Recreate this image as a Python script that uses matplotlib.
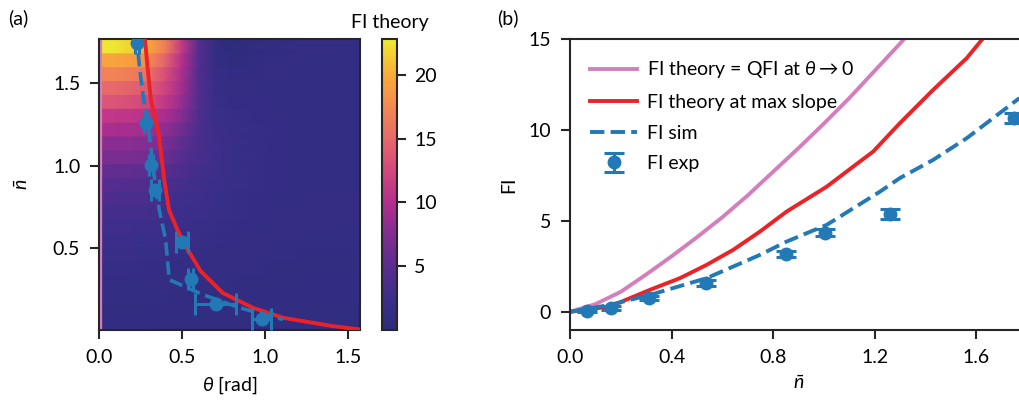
import numpy as np
import matplotlib
matplotlib.use('Agg')
import matplotlib.pyplot as plt
from matplotlib.colors import LinearSegmentedColormap

plt.rcParams['font.family'] = ['Lato', 'DejaVu Sans']
plt.rcParams['font.size'] = 14
plt.rcParams['mathtext.fontset'] = 'custom'
plt.rcParams['mathtext.rm'] = 'Lato'
plt.rcParams['mathtext.it'] = 'Lato:italic'
plt.rcParams['mathtext.bf'] = 'Lato:bold'

# ---------------- data: panel (a) heatmap (FI theory vs theta, nbar) ----------------
theta_nodes = [0.0, 0.1, 0.2, 0.3, 0.4, 0.5, 0.6, 0.7, 0.8, 1.0, 1.2, 1.57]
nbar_edges_max = 1.77
# rows listed from top (largest nbar) to bottom (smallest nbar)
fi_map_rows = [
    [22.5, 22.5, 21.5, 19.5, 16.5, 11.0, 4.5, 1.2, 0.5, 1.2, 1.4, 1.5],
    [19.5, 19.5, 19.0, 17.5, 14.5, 10.0, 4.3, 1.4, 0.8, 1.3, 1.5, 1.5],
    [17.0, 17.0, 16.5, 15.5, 13.0, 9.5, 4.2, 1.7, 1.1, 1.4, 1.5, 1.5],
    [15.0, 15.0, 14.5, 14.0, 12.0, 9.0, 4.2, 2.0, 1.4, 1.5, 1.5, 1.5],
    [13.5, 13.5, 13.0, 12.5, 11.0, 8.5, 4.2, 2.2, 1.6, 1.6, 1.5, 1.5],
    [11.0, 11.0, 10.8, 10.5, 9.5, 7.5, 4.0, 2.4, 1.8, 1.6, 1.5, 1.5],
    [9.5, 9.5, 9.3, 9.0, 8.2, 6.3, 3.8, 2.5, 2.0, 1.7, 1.5, 1.5],
    [8.0, 8.0, 7.9, 7.6, 6.8, 5.3, 3.6, 2.6, 2.1, 1.7, 1.5, 1.5],
    [7.0, 7.0, 6.9, 6.5, 5.8, 4.6, 3.4, 2.6, 2.1, 1.7, 1.5, 1.5],
    [5.5, 5.5, 5.4, 5.1, 4.7, 3.9, 3.1, 2.5, 2.1, 1.7, 1.5, 1.5],
    [4.5, 4.5, 4.4, 4.1, 3.7, 3.2, 2.7, 2.3, 2.0, 1.7, 1.5, 1.5],
    [3.8, 3.8, 3.7, 3.5, 3.2, 2.8, 2.5, 2.2, 1.9, 1.6, 1.5, 1.4],
    [3.2, 3.2, 3.1, 3.0, 2.8, 2.5, 2.3, 2.0, 1.8, 1.6, 1.4, 1.4],
    [2.8, 2.8, 2.7, 2.6, 2.4, 2.2, 2.0, 1.8, 1.7, 1.5, 1.4, 1.3],
    [2.4, 2.4, 2.3, 2.2, 2.1, 2.0, 1.8, 1.7, 1.6, 1.4, 1.3, 1.3],
    [2.0, 2.0, 2.0, 1.9, 1.8, 1.7, 1.6, 1.5, 1.5, 1.3, 1.3, 1.2],
    [1.7, 1.7, 1.7, 1.6, 1.6, 1.5, 1.5, 1.4, 1.4, 1.3, 1.2, 1.2],
    [1.5, 1.5, 1.5, 1.4, 1.4, 1.4, 1.3, 1.3, 1.3, 1.2, 1.2, 1.1],
    [1.3, 1.3, 1.3, 1.3, 1.3, 1.2, 1.2, 1.2, 1.2, 1.1, 1.1, 1.1],
    [1.2, 1.2, 1.2, 1.2, 1.1, 1.1, 1.1, 1.1, 1.1, 1.1, 1.0, 1.0],
    [1.1, 1.1, 1.1, 1.1, 1.0, 1.0, 1.0, 1.0, 1.0, 1.0, 1.0, 1.0],
]

# panel (a) lines
theta_maxslope = [0.274, 0.292, 0.313, 0.359, 0.393, 0.421, 0.472, 0.522, 0.613, 0.744, 0.825, 0.927, 1.109, 1.411, 1.571]
nbar_maxslope = [1.80, 1.599, 1.397, 1.195, 0.910, 0.730, 0.609, 0.508, 0.357, 0.226, 0.185, 0.135, 0.074, 0.023, 0.003]
theta_sim = [0.224, 0.246, 0.272, 0.302, 0.325, 0.343, 0.363, 0.401, 0.423, 0.625, 0.847, 1.107]
nbar_sim_a = [1.80, 1.579, 1.377, 1.195, 1.00, 0.852, 0.730, 0.548, 0.306, 0.215, 0.135, 0.064]

# experiment
n_exp = [0.068, 0.16, 0.312, 0.536, 0.852, 1.003, 1.26, 1.748]
theta_exp = [0.978, 0.702, 0.551, 0.500, 0.337, 0.313, 0.282, 0.228]
theta_err = [0.06, 0.124, 0.016, 0.037, 0.023, 0.015, 0.012, 0.010]
fi_exp = [0.07, 0.2, 0.75, 1.58, 3.17, 4.36, 5.38, 10.64]
fi_exp_err = [0.08, 0.10, 0.12, 0.15, 0.15, 0.18, 0.28, 0.28]

# ---------------- data: panel (b) ----------------
n_qfi = [0.0, 0.1, 0.2, 0.3, 0.4, 0.5, 0.6, 0.7, 0.8, 0.9, 1.0, 1.1, 1.2, 1.3, 1.4]
fi_qfi = [0.0, 0.42, 1.1, 2.05, 3.05, 4.1, 5.2, 6.4, 7.7, 9.0, 10.35, 11.75, 13.25, 14.75, 16.3]
n_ms = [0.0, 0.157, 0.315, 0.433, 0.538, 0.643, 0.748, 0.853, 1.011, 1.115, 1.194, 1.299, 1.43, 1.562, 1.66]
fi_ms = [0.0, 0.29, 1.21, 1.85, 2.58, 3.41, 4.41, 5.51, 6.88, 7.98, 8.81, 10.37, 12.2, 13.94, 15.6]
n_sim = [0.0, 0.157, 0.315, 0.538, 0.748, 0.853, 1.011, 1.22, 1.299, 1.43, 1.562, 1.77]
fi_sim = [0.0, 0.38, 0.93, 1.85, 3.13, 3.86, 4.78, 6.6, 7.35, 8.35, 9.54, 11.75]

# ---------------- style ----------------
PINK = '#d47fbd'
RED = '#ec2227'
BLUE = '#2379b5'
SPINE = '#262626'

cmap = LinearSegmentedColormap.from_list('faded_plasma', [
    (0.00, '#2b2c7a'), (0.10, '#3a2e8a'), (0.22, '#5b2d8f'), (0.35, '#8a2d92'),
    (0.44, '#b52e8d'), (0.55, '#d2497d'), (0.66, '#e7696a'), (0.77, '#f48a50'),
    (0.88, '#f9ac38'), (1.00, '#eeec30')])

fig = plt.figure(figsize=(10.2, 4.01), dpi=100)
bot = 1 - 330 / 401
hgt = 291 / 401
axa = fig.add_axes([99 / 1020, bot, 261 / 1020, hgt])
cax = fig.add_axes([382 / 1020, bot, 15 / 1020, hgt])
axb = fig.add_axes([570 / 1020, bot, 457 / 1020, hgt])

# heatmap: sharp rows in nbar, smooth in theta
rows = np.array(fi_map_rows[::-1])
nrows = rows.shape[0]
edges = np.linspace(0, nbar_edges_max, nrows + 1)
Y1 = np.repeat(edges, 2)[1:-1]
C = np.repeat(rows, 2, axis=0)
X, Y = np.meshgrid(theta_nodes, Y1)
mesh = axa.pcolormesh(X, Y, C, shading='gouraud', cmap=cmap, vmin=0, vmax=22.8,
                      rasterized=True)
axa.axvline(0, color=PINK, lw=4.5, zorder=2)
axa.plot(theta_maxslope, nbar_maxslope, color=RED, lw=2.8, zorder=3)
axa.plot(theta_sim, nbar_sim_a, color=BLUE, lw=2.6, ls='--', zorder=3)
axa.errorbar(theta_exp, n_exp, xerr=theta_err, fmt='o', color=BLUE, ms=9,
             capsize=8, elinewidth=2.2, capthick=2.2, zorder=4)
axa.set_xlim(0, np.pi / 2)
axa.set_ylim(0, 1.77)
axa.set_xticks([0.0, 0.5, 1.0, 1.5])
axa.set_yticks([0.5, 1.0, 1.5])
axa.set_xlabel(r'$\theta$ [rad]', labelpad=6)
axa.set_ylabel(r'$\bar{n}$', labelpad=16)

cb = fig.colorbar(mesh, cax=cax)
cb.set_ticks([5, 10, 15, 20])
cb.outline.set_linewidth(1.5)
cb.outline.set_edgecolor(SPINE)
cax.set_title('FI theory', fontsize=14, pad=8)
cax.tick_params(direction='out', length=6.5, width=1.5, pad=6, labelsize=14, color=SPINE)

# panel (b)
axb.plot(n_qfi, fi_qfi, color=PINK, lw=2.8, label=r'FI theory = QFI at $\theta \rightarrow 0$')
axb.plot(n_ms, fi_ms, color=RED, lw=2.8, label='FI theory at max slope')
axb.plot(n_sim, fi_sim, color=BLUE, lw=2.8, ls='--', label='FI sim')
axb.errorbar(n_exp, fi_exp, yerr=fi_exp_err, fmt='o', color=BLUE, ms=9,
             capsize=7, elinewidth=2.2, capthick=2.2, zorder=4, label='FI exp')
axb.set_xlim(0, 1.8)
axb.set_ylim(-1, 15)
axb.set_xticks([0.0, 0.4, 0.8, 1.2, 1.6])
axb.set_yticks([0, 5, 10, 15])
axb.set_xlabel(r'$\bar{n}$', labelpad=6)
axb.set_ylabel('FI', labelpad=8)
axb.legend(loc='upper left', frameon=False, fontsize=14, handlelength=2.4,
           handletextpad=0.5, labelspacing=0.7, borderaxespad=0.6,
           borderpad=0.45)

for ax in (axa, axb):
    for s in ax.spines.values():
        s.set_linewidth(1.5)
        s.set_color(SPINE)
    ax.tick_params(direction='out', length=6.5, width=1.5, pad=7, labelsize=14, color=SPINE)

fig.text(8 / 1020, 1 - 18 / 401, '(a)', fontsize=14, va='center', ha='left')
fig.text(497 / 1020, 1 - 18 / 401, '(b)', fontsize=14, va='center', ha='left')

fig.savefig('out.png', dpi=100)
